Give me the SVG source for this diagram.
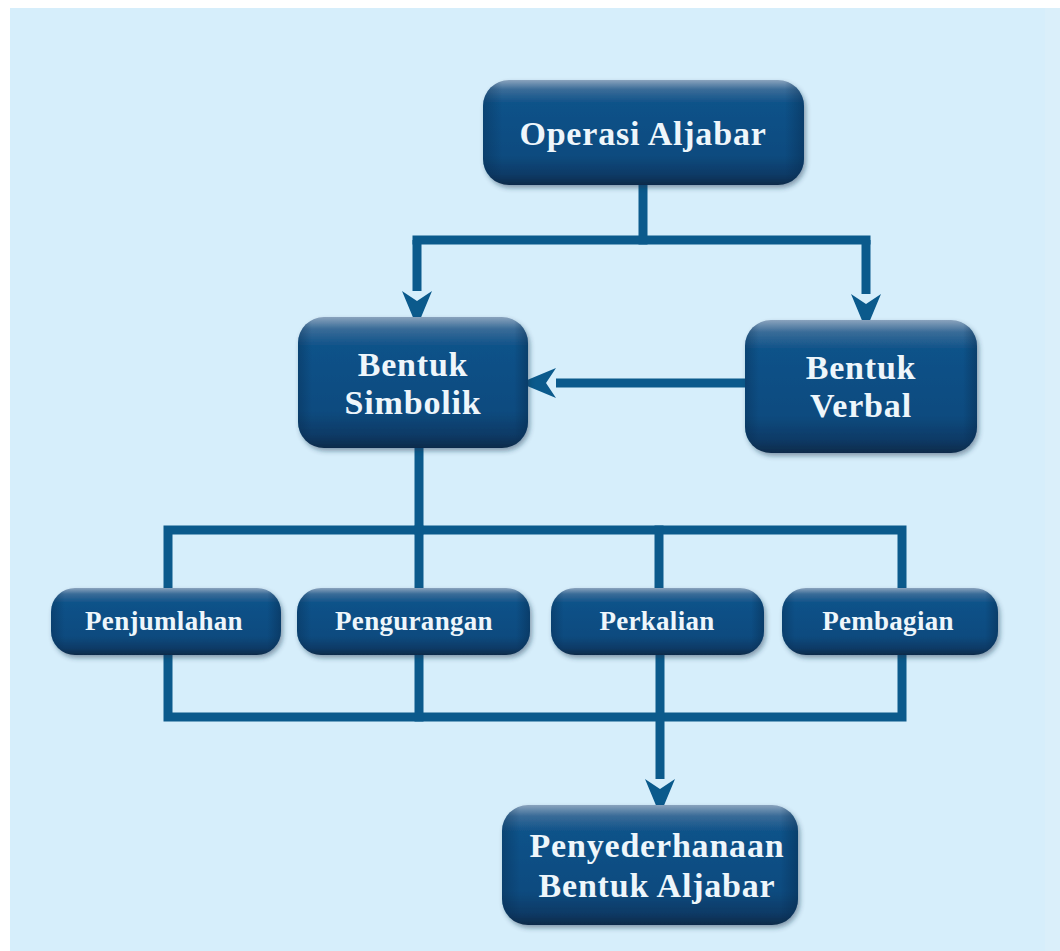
<svg xmlns="http://www.w3.org/2000/svg" width="1060" height="951" viewBox="0 0 1060 951">
  <defs>
    <linearGradient id="boxg" x1="0" y1="0" x2="0" y2="1">
      <stop offset="0" stop-color="#8aa3bd"/>
      <stop offset="0.09" stop-color="#3a6c98"/>
      <stop offset="0.22" stop-color="#0f5289"/>
      <stop offset="0.72" stop-color="#0b4b7f"/>
      <stop offset="0.9" stop-color="#083a66"/>
      <stop offset="1" stop-color="#0a2b4a"/>
    </linearGradient>
    <linearGradient id="sideg" x1="0" y1="0" x2="1" y2="0">
      <stop offset="0" stop-color="#06284a" stop-opacity="0.35"/>
      <stop offset="0.06" stop-color="#06284a" stop-opacity="0"/>
      <stop offset="0.94" stop-color="#06284a" stop-opacity="0"/>
      <stop offset="1" stop-color="#06284a" stop-opacity="0.45"/>
    </linearGradient>
    <filter id="sh" x="-10%" y="-10%" width="125%" height="130%">
      <feDropShadow dx="2" dy="3" stdDeviation="2.5" flood-color="#1b3550" flood-opacity="0.45"/>
    </filter>
    <marker id="arr" markerUnits="userSpaceOnUse" viewBox="-2 -17 40 34" markerWidth="40" markerHeight="34" refX="0" refY="0" orient="auto">
      <path d="M36,0 L0,-15 L10,0 L0,15 Z" fill="#0b5a8c"/>
    </marker>
  </defs>
  <style>
    .conn { fill: none; stroke: #0b5a8c; stroke-width: 9; stroke-linecap: square; stroke-linejoin: miter; }
    .arrow { fill: none; stroke: #0b5a8c; stroke-width: 9; stroke-linecap: butt; marker-end: url(#arr); }
    .box { fill: url(#boxg); filter: url(#sh); }
    .side { fill: url(#sideg); }
    .big { font-family: "Liberation Serif", "Times New Roman", serif; font-weight: bold; font-size: 34px; fill: #eef6fb; text-anchor: middle; letter-spacing: 0.8px; }
    .small { font-family: "Liberation Serif", "Times New Roman", serif; font-weight: bold; font-size: 27px; fill: #eef6fb; text-anchor: middle; letter-spacing: 0.3px; }
  </style>
  <rect x="0" y="0" width="1060" height="951" fill="#ffffff"/>
  <rect x="10" y="8" width="1050" height="943" fill="#d6eefb"/>
  <rect x="1045" y="8" width="15" height="943" fill="#daeffa"/>

  <g id="connectors">
    <path class="conn" d="M643,185 V240"/>
    <path class="conn" d="M417,240 H866"/>
    <path class="arrow" d="M417,240 V291"/>
    <path class="arrow" d="M866,240 V294"/>
    <path class="arrow" d="M745,383 H556"/>
    <path class="conn" d="M419,448 V530"/>
    <path class="conn" d="M168,590 V530 H902 V590"/>
    <path class="conn" d="M419,530 V590"/>
    <path class="conn" d="M659,530 V590"/>
    <path class="conn" d="M168,655 V717 H902 V655"/>
    <path class="conn" d="M419,655 V717"/>
    <path class="arrow" d="M660,655 V779"/>
  </g>

  <g id="node-operasi">
    <rect class="box" x="483" y="80" width="321" height="105" rx="26"/>
    <rect class="side" x="483" y="80" width="321" height="105" rx="26"/>
    <text class="big" x="643" y="145">Operasi Aljabar</text>
  </g>
  <g id="node-simbolik">
    <rect class="box" x="298" y="317" width="230" height="131" rx="26"/>
    <rect class="side" x="298" y="317" width="230" height="131" rx="26"/>
    <text class="big" x="413" y="376">Bentuk</text>
    <text class="big" x="413" y="414">Simbolik</text>
  </g>
  <g id="node-verbal">
    <rect class="box" x="745" y="320" width="232" height="133" rx="26"/>
    <rect class="side" x="745" y="320" width="232" height="133" rx="26"/>
    <text class="big" x="861" y="379">Bentuk</text>
    <text class="big" x="861" y="417">Verbal</text>
  </g>
  <g id="node-penjumlahan">
    <rect class="box" x="51" y="588" width="230" height="67" rx="24"/>
    <rect class="side" x="51" y="588" width="230" height="67" rx="24"/>
    <text class="small" x="164" y="630">Penjumlahan</text>
  </g>
  <g id="node-pengurangan">
    <rect class="box" x="297" y="588" width="233" height="67" rx="24"/>
    <rect class="side" x="297" y="588" width="233" height="67" rx="24"/>
    <text class="small" x="414" y="630">Pengurangan</text>
  </g>
  <g id="node-perkalian">
    <rect class="box" x="551" y="588" width="213" height="67" rx="24"/>
    <rect class="side" x="551" y="588" width="213" height="67" rx="24"/>
    <text class="small" x="657" y="630">Perkalian</text>
  </g>
  <g id="node-pembagian">
    <rect class="box" x="782" y="588" width="216" height="67" rx="24"/>
    <rect class="side" x="782" y="588" width="216" height="67" rx="24"/>
    <text class="small" x="888" y="630">Pembagian</text>
  </g>
  <g id="node-penyederhanaan">
    <rect class="box" x="502" y="805" width="296" height="120" rx="26"/>
    <rect class="side" x="502" y="805" width="296" height="120" rx="26"/>
    <text class="big" x="657" y="857">Penyederhanaan</text>
    <text class="big" x="657" y="897">Bentuk Aljabar</text>
  </g>
</svg>
